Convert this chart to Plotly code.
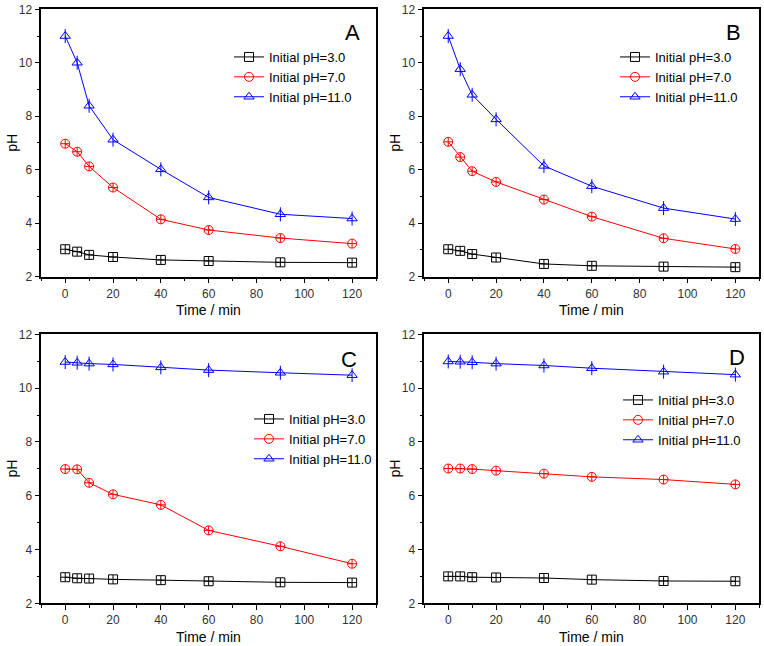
import plotly.graph_objects as go

W, H = 764, 646

time_min = [0, 5, 10, 20, 40, 60, 90, 120]
series_names = ["Initial pH=3.0", "Initial pH=7.0", "Initial pH=11.0"]

panel_A_ph3 = [3.02, 2.93, 2.81, 2.73, 2.62, 2.58, 2.53, 2.52]
panel_A_ph7 = [6.97, 6.67, 6.12, 5.33, 4.14, 3.74, 3.44, 3.23]
panel_A_ph11 = [11.0, 10.0, 8.39, 7.12, 6.01, 4.96, 4.33, 4.17]

panel_B_ph3 = [3.02, 2.96, 2.84, 2.71, 2.47, 2.40, 2.37, 2.35]
panel_B_ph7 = [7.04, 6.47, 5.94, 5.54, 4.88, 4.24, 3.43, 3.03]
panel_B_ph11 = [11.0, 9.76, 8.80, 7.88, 6.14, 5.38, 4.56, 4.15]

panel_C_ph3 = [2.97, 2.93, 2.92, 2.89, 2.86, 2.82, 2.78, 2.77]
panel_C_ph7 = [6.99, 6.98, 6.48, 6.05, 5.66, 4.71, 4.12, 3.47]
panel_C_ph11 = [10.97, 10.94, 10.91, 10.88, 10.77, 10.67, 10.57, 10.48]

panel_D_ph3 = [3.00, 3.00, 2.97, 2.96, 2.94, 2.88, 2.83, 2.82]
panel_D_ph7 = [7.01, 7.01, 6.99, 6.93, 6.82, 6.70, 6.60, 6.42]
panel_D_ph11 = [10.99, 10.98, 10.96, 10.91, 10.84, 10.74, 10.61, 10.50]

panel_labels = ["A", "B", "C", "D"]
x_title = "Time / min"
y_title = "pH"

colors = ["#000000", "#ff0000", "#0000ff"]
data_symbols = ["square-cross-open", "circle-cross-open", "triangle-up-open"]
legend_symbols = ["square-open", "circle-open", "triangle-up-open"]

panels = [
    (panel_A_ph3, panel_A_ph7, panel_A_ph11),
    (panel_B_ph3, panel_B_ph7, panel_B_ph11),
    (panel_C_ph3, panel_C_ph7, panel_C_ph11),
    (panel_D_ph3, panel_D_ph7, panel_D_ph11),
]

FONT = "Arial, Liberation Sans, sans-serif"

def px_x(v):
    return v / W

def px_y(v):
    return 1 - v / H

# plot-area pixel boxes (left, right, top, bottom)
boxes = [
    (41.3, 376.0, 9.3, 276.5),
    (424.3, 759.3, 9.3, 276.5),
    (41.3, 376.0, 334.3, 603.3),
    (424.3, 759.3, 334.3, 603.3),
]
legend_pos = [(229, 77), (615, 77), (249, 439), (618, 420)]
label_pos = [(352, 32), (733, 32), (348.5, 359), (736.5, 357)]

fig = go.Figure()
layout = dict(
    width=W, height=H,
    margin=dict(l=0, r=0, t=0, b=0, autoexpand=False),
    paper_bgcolor="white", plot_bgcolor="white",
    font=dict(family=FONT, color="#222222"),
    annotations=[],
)

for i, (series, box) in enumerate(zip(panels, boxes)):
    n = "" if i == 0 else str(i + 1)
    xa, ya = "x" + n, "y" + n
    lg = "legend" + n
    for j, vals in enumerate(series):
        fig.add_trace(go.Scatter(
            x=time_min, y=vals, xaxis=xa, yaxis=ya,
            mode="lines+markers",
            line=dict(color=colors[j], width=1),
            marker=dict(symbol=data_symbols[j], size=9, color=colors[j],
                        line=dict(width=1, color=colors[j])),
            showlegend=False,
        ))
        if j == 2:
            # vertical stroke through the triangle markers, as in the original
            fig.add_trace(go.Scatter(
                x=time_min, y=vals, xaxis=xa, yaxis=ya, mode="markers",
                marker=dict(symbol="line-ns", size=10, color=colors[j],
                            line=dict(width=1, color=colors[j])),
                showlegend=False, hoverinfo="skip",
            ))
    for j in range(3):
        fig.add_trace(go.Scatter(
            x=[None], y=[None], xaxis=xa, yaxis=ya,
            mode="lines+markers", name=series_names[j],
            line=dict(color=colors[j], width=1),
            marker=dict(symbol=legend_symbols[j], size=9, color=colors[j],
                        line=dict(width=1, color=colors[j])),
            legend=lg, showlegend=True,
        ))
    l, r, t, b = box
    axcommon = dict(showline=True, linecolor="black", linewidth=1.5, mirror=True,
                    ticks="outside", ticklen=5, tickwidth=1, tickcolor="black",
                    showgrid=False, zeroline=False, automargin=False,
                    tickfont=dict(size=12, family=FONT, color="#333333"))
    layout["xaxis" + n] = dict(domain=[px_x(l), px_x(r)], range=[-10, 130],
                               tickvals=[0, 20, 40, 60, 80, 100, 120],
                               minor=dict(tickvals=[-10, 10, 30, 50, 70, 90, 110, 130],
                                          ticklen=3, ticks="outside", tickcolor="black"),
                               anchor=ya, **axcommon)
    layout["yaxis" + n] = dict(domain=[px_y(b), px_y(t)], range=[2, 12],
                               tickvals=[2, 4, 6, 8, 10, 12],
                               minor=dict(tickvals=[3, 5, 7, 9, 11],
                                          ticklen=3, ticks="outside", tickcolor="black"),
                               anchor=xa, **axcommon)
    lx, ly = legend_pos[i]
    layout[lg] = dict(x=px_x(lx), y=px_y(ly), xanchor="left", yanchor="middle",
                      xref="paper", yref="paper",
                      bgcolor="rgba(0,0,0,0)", borderwidth=0,
                      font=dict(size=13, family=FONT, color="black"),
                      itemwidth=30)
    cx = (l + r) / 2
    cy = (t + b) / 2
    layout["annotations"].append(dict(
        text=x_title, x=px_x(cx), y=px_y(b + 33.5), xref="paper", yref="paper",
        showarrow=False, xanchor="center", yanchor="middle",
        font=dict(size=14, family=FONT, color="black")))
    layout["annotations"].append(dict(
        text=y_title, x=px_x(l - 29.5), y=px_y(cy), xref="paper", yref="paper",
        showarrow=False, xanchor="center", yanchor="middle", textangle=-90,
        font=dict(size=14, family=FONT, color="black")))
    px_, py_ = label_pos[i]
    layout["annotations"].append(dict(
        text=panel_labels[i], x=px_x(px_), y=px_y(py_), xref="paper", yref="paper",
        showarrow=False, xanchor="center", yanchor="middle",
        font=dict(size=22, family=FONT, color="black")))

fig.update_layout(**layout)
fig.write_html(
    "out.html",
    config={"displayModeBar": False},
    post_script="document.body.style.margin='0';document.body.style.padding='0';"
                "document.body.style.overflow='hidden';",
)
